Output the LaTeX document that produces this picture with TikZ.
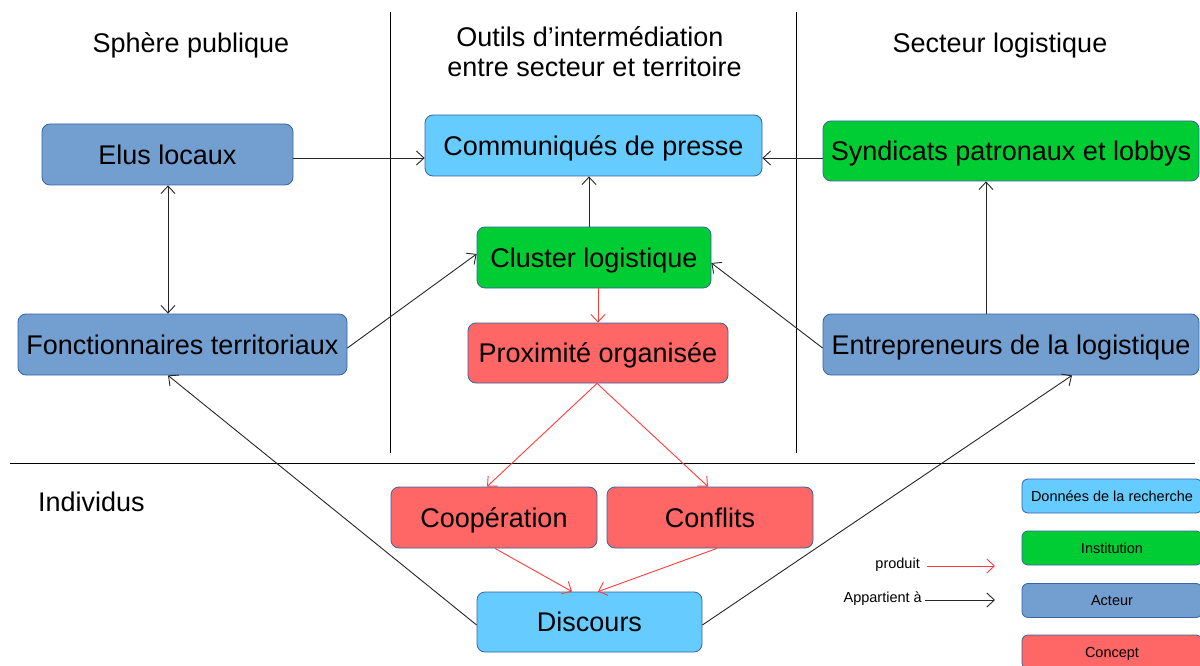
\documentclass[tikz,border=0pt]{standalone}
\usepackage{fontspec}
\setmainfont{Liberation Sans}
\usetikzlibrary{arrows.meta}
\definecolor{cLB}{HTML}{66CCFF}
\definecolor{cGR}{HTML}{00CC33}
\definecolor{cST}{HTML}{729FCF}
\definecolor{cRD}{HTML}{FF6666}
\definecolor{cBD}{HTML}{3465A4}
\definecolor{cRA}{HTML}{FF3B3B}
\begin{document}
\begin{tikzpicture}[x=1pt,y=-1pt,
  box/.style={draw=cBD, line width=0.8pt, rounded corners=8pt, inner sep=0pt,
    text height=19.3pt, text depth=0pt, font=\fontsize{27}{32}\selectfont},
  lbox/.style={draw=cBD, line width=0.8pt, rounded corners=6pt, inner sep=0pt,
    minimum width=180pt, minimum height=34pt,
    text height=10.4pt, text depth=0pt, font=\fontsize{14.5}{17}\selectfont},
  hdr/.style={inner sep=0pt, font=\fontsize{27}{30}\selectfont},
  ltxt/.style={inner sep=0pt, font=\fontsize{14.5}{17}\selectfont},
  arr/.style={-{Straight Barb[length=7.5pt,width=14pt]}, line width=0.9pt, draw=black!85},
  rarr/.style={arr, draw=cRA},
  sep/.style={line width=1pt, draw=black}]
\clip (0,0) rectangle (1200,666);
\fill[white] (0,0) rectangle (1200,666);

% separators
\coordinate (v1t) at (390,12); \coordinate (v1b) at (390,453);
\coordinate (v2t) at (796,12); \coordinate (v2b) at (796,453);
\coordinate (hl) at (10,463); \coordinate (hr) at (1195,463);
\draw[sep] (v1t) -- (v1b);
\draw[sep] (v2t) -- (v2b);
\draw[sep] (hl) -- (hr);

% headers
\node[hdr, anchor=base] (h1) at (191,53) {Sphère publique};
\node[hdr, anchor=base] (h2a) at (590,46.7) {Outils d’intermédiation};
\node[hdr, anchor=base] (h2b) at (594.5,76.7) {entre secteur et territoire};
\node[hdr, anchor=base] (h3) at (1000,53) {Secteur logistique};
\node[hdr, anchor=base west] (h4) at (38,511.5) {Individus};

% boxes
\node[box, fill=cST, minimum width=251pt, minimum height=61pt] (elus) at (167.5,154.5) {Elus locaux};
\node[box, fill=cST, minimum width=329pt, minimum height=61pt] (fonc) at (182.5,344.5) {Fonctionnaires territoriaux};
\node[box, fill=cLB, minimum width=337pt, minimum height=61pt] (comm) at (593.5,145.5) {Communiqués de presse};
\node[box, fill=cGR, minimum width=234pt, minimum height=61pt] (clus) at (594,257.5) {Cluster logistique};
\node[box, fill=cRD, minimum width=260pt, minimum height=60pt] (prox) at (598,353) {Proximité organisée};
\node[box, fill=cGR, minimum width=376pt, minimum height=60pt] (synd) at (1011,151) {Syndicats patronaux et lobbys};
\node[box, fill=cST, minimum width=376pt, minimum height=61pt] (entr) at (1011,344.5) {Entrepreneurs de la logistique};
\node[box, fill=cRD, minimum width=206pt, minimum height=61pt] (coop) at (494,517.5) {Coopération};
\node[box, fill=cRD, minimum width=206pt, minimum height=61pt] (conf) at (710,517.5) {Conflits};
\node[box, fill=cLB, minimum width=225pt, minimum height=60pt] (disc) at (589.5,622) {Discours};

% legend
\node[lbox, fill=cLB] (lg1) at (1112,496) {Données de la recherche};
\node[lbox, fill=cGR] (lg2) at (1112,548) {Institution};
\node[lbox, fill=cST] (lg3) at (1112,600.5) {Acteur};
\node[lbox, fill=cRD] (lg4) at (1112,652) {Concept};
\node[ltxt, anchor=base east] (lprod) at (920,568) {produit};
\node[ltxt, anchor=base east] (lapp) at (922,602.7) {Appartient à};
\coordinate (pa) at (927,566); \coordinate (pb) at (995,566);
\coordinate (qa) at (925,600); \coordinate (qb) at (995,600);
\draw[rarr] (pa) -- (pb);
\draw[arr] (qa) -- (qb);

% black connectors
\draw[arr] (elus.east |- 0,158) -- (comm.west |- 0,158);
\draw[arr] (synd.west |- 0,158) -- (comm.east |- 0,158);
\draw[arr] (clus.north -| 589,0) -- (comm.south -| 589,0);
\draw[arr, {Straight Barb[length=7.5pt,width=14pt]}-{Straight Barb[length=7.5pt,width=14pt]}] (elus.south -| 168,0) -- (fonc.north -| 168,0);
\draw[arr] (fonc.east |- 0,348) -- (clus.west |- 0,254);
\draw[arr] (entr.west |- 0,348) -- (clus.east |- 0,263);
\draw[arr] (entr.north -| 986,0) -- (synd.south -| 986,0);
\draw[arr] (disc.west |- 0,625) -- (fonc.south -| 168,0);
\draw[arr] (disc.east |- 0,625) -- (entr.south -| 1072,0);

% red connectors
\draw[rarr] (clus.south -| 598,0) -- (prox.north -| 598,0);
\draw[rarr] (prox.south -| 597,0) -- (coop.north -| 487,0);
\draw[rarr] (prox.south -| 597,0) -- (conf.north -| 708,0);
\draw[rarr] (coop.south -| 495,0) -- (disc.north -| 572,0);
\draw[rarr] (conf.south -| 717,0) -- (disc.north -| 598,0);
\end{tikzpicture}
\end{document}
